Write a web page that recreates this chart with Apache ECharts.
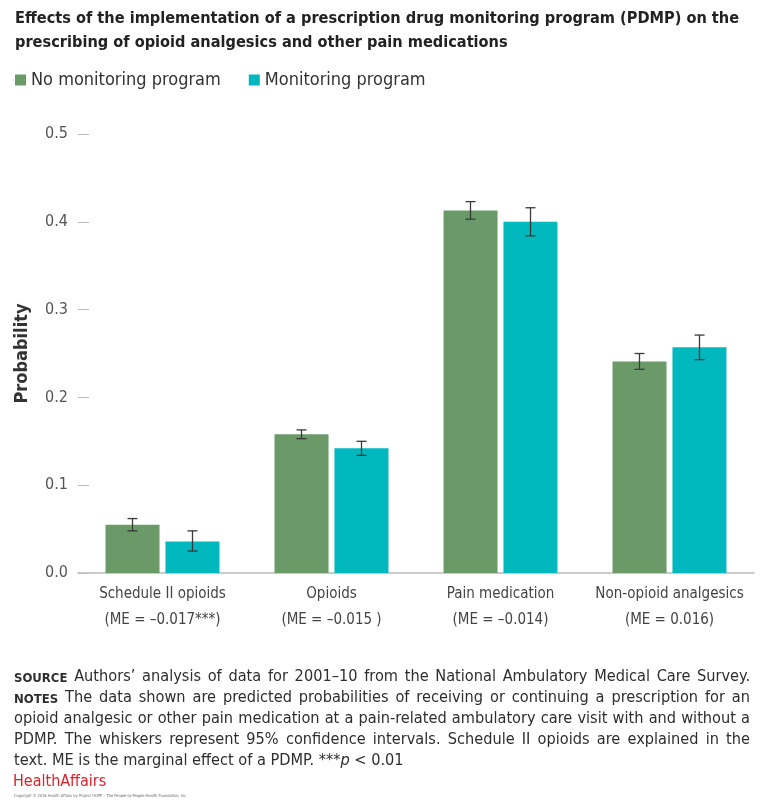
<!DOCTYPE html>
<html><head><meta charset="utf-8">
<script src="https://cdn.jsdelivr.net/npm/echarts@6/dist/echarts.min.js"></script>
<style>html,body{margin:0;padding:0;background:#fff}#c{width:768px;height:808px}</style>
</head><body><div id="c"></div>
<script>
const categories = ['Schedule II opioids', 'Opioids', 'Pain medication', 'Non-opioid analgesics'];
const meLabels = ['(ME = \u20130.017***)', '(ME = \u20130.015 )', '(ME = \u20130.014)', '(ME = 0.016)'];
const noProgram = [0.055, 0.158, 0.413, 0.241];
const noProgramLow = [0.048, 0.153, 0.403, 0.232];
const noProgramHigh = [0.062, 0.163, 0.423, 0.250];
const withProgram = [0.036, 0.142, 0.400, 0.257];
const withProgramLow = [0.025, 0.134, 0.384, 0.243];
const withProgramHigh = [0.048, 0.150, 0.416, 0.271];
const yTicks = [0, 0.1, 0.2, 0.3, 0.4, 0.5];

const FONT = '"DejaVu Sans Condensed","Liberation Sans Narrow",sans-serif';
const GREEN = '#6a9a68';
const TEAL = '#00b8bd';
const BAR_W = 54;
const OFFSET = 30;

const chart = echarts.init(document.getElementById('c'), null, {renderer: 'canvas'});

function errSeries(lows, highs, offset) {
  return {
    type: 'custom', z: 10, silent: true,
    data: lows.map((l, i) => [i, l, highs[i]]),
    renderItem: function (params, api) {
      const lo = api.coord([api.value(0), api.value(1)]);
      const hi = api.coord([api.value(0), api.value(2)]);
      const x = lo[0] + offset;
      const cap = 5;
      const st = {stroke: '#3a3a3a', lineWidth: 1.3};
      return {type: 'group', children: [
        {type: 'line', shape: {x1: x, y1: lo[1], x2: x, y2: hi[1]}, style: st},
        {type: 'line', shape: {x1: x - cap, y1: lo[1], x2: x + cap, y2: lo[1]}, style: st},
        {type: 'line', shape: {x1: x - cap, y1: hi[1], x2: x + cap, y2: hi[1]}, style: st}
      ]};
    }
  };
}

// footer lines: tokens [text, styleKey]; all lines justified except last
const footerLines = [
  [['SOURCE', 'b'], ['Authors\u2019 analysis of data for 2001\u201310 from the National Ambulatory Medical Care Survey.', 'n']],
  [['NOTES', 'b'], ['The data shown are predicted probabilities of receiving or continuing a prescription for an', 'n']],
  [['opioid analgesic or other pain medication at a pain-related ambulatory care visit with and without a', 'n']],
  [['PDMP. The whiskers represent 95% confidence intervals. Schedule II opioids are explained in the', 'n']],
  [['text. ME is the marginal effect of a PDMP. ***', 'n'], ['p', 'i'], [' < 0.01', 'n']]
];
const FSIZE = 16.2;
const fonts = {
  n: FSIZE + 'px ' + FONT,
  b: 'bold 13px ' + FONT,
  i: 'italic ' + FSIZE + 'px ' + FONT
};
const mctx = document.createElement('canvas').getContext('2d');
function measure(t, f) { mctx.font = f; return mctx.measureText(t).width; }

const graphics = [];
const FX0 = 14, FX1 = 750;
footerLines.forEach((line, li) => {
  const y = 669 + li * 21;
  const justify = li < footerLines.length - 1;
  const units = [];
  line.forEach(([t, k], ti) => {
    if (k === 'i') {
      units[units.length - 1].push({t: t, k: k});
      return;
    }
    if (k === 'b') { units.push([{t: t, k: k}]); return; }
    const startsSpace = t.startsWith(' ');
    const parts = t.split(' ').filter(p => p !== '');
    parts.forEach((p, pi) => {
      const prev = line[ti - 1];
      if (pi === 0 && prev && prev[1] === 'i' && !startsSpace) units[units.length - 1].push({t: p, k: k});
      else units.push([{t: p, k: k}]);
    });
  });
  const space = measure(' ', fonts.n);
  const uw = units.map(u => u.reduce((s, w) => s + measure(w.t, fonts[w.k]), 0));
  const total = uw.reduce((a, b) => a + b, 0);
  const gap = justify ? (FX1 - FX0 - total) / (units.length - 1) : space;
  let x = FX0;
  units.forEach((u, ui) => {
    let xx = x;
    u.forEach(w => {
      graphics.push({type: 'text', x: xx, y: y + (w.k === 'b' ? 3 : 0),
        style: {text: w.t, font: fonts[w.k], fill: '#2e2e2e'}});
      xx += measure(w.t, fonts[w.k]);
    });
    x += uw[ui] + gap;
  });
});
graphics.push({type: 'text', left: 13, top: 774, style: {text: 'HealthAffairs', font: '16px ' + FONT, fill: '#e0202a'}});
graphics.push({type: 'text', left: 14, top: 794, style: {text: 'Copyright \u00a9 2016 Health Affairs by Project HOPE \u2013 The People-to-People Health Foundation, Inc.', font: '4px ' + FONT, fill: '#666'}});

chart.setOption({
  animation: false,
  title: {
    text: 'Effects of the implementation of a prescription drug monitoring program (PDMP) on the\nprescribing of opioid analgesics and other pain medications',
    left: 10, top: 2,
    textStyle: {fontFamily: FONT, fontSize: 16.2, fontWeight: 'bold', color: '#222', lineHeight: 24}
  },
  legend: {
    left: 10, top: 66, itemWidth: 11, itemHeight: 11, itemGap: 28, icon: 'rect',
    textStyle: {fontFamily: FONT, fontSize: 18, color: '#333'},
    data: ['No monitoring program', 'Monitoring program']
  },
  grid: {left: 78, right: 14, top: 134, bottom: 235},
  xAxis: {
    type: 'category', data: categories,
    axisLine: {lineStyle: {color: '#bbb', width: 1.5}},
    axisTick: {show: false},
    axisLabel: {
      interval: 0, margin: 8, lineHeight: 26, fontFamily: FONT, fontSize: 15, color: '#444',
      formatter: (v, i) => v + '\n' + meLabels[i]
    }
  },
  yAxis: {
    type: 'value', min: yTicks[0], max: yTicks[yTicks.length - 1], interval: 0.1,
    name: 'Probability', nameLocation: 'middle', nameGap: 47, nameRotate: 90,
    nameTextStyle: {fontFamily: FONT, fontSize: 18, color: '#333', fontWeight: 'bold'},
    axisLine: {show: false},
    axisTick: {show: true, inside: true, length: 11, lineStyle: {color: '#bbb'}},
    splitLine: {show: false},
    axisLabel: {margin: 10, fontFamily: FONT, fontSize: 16, color: '#555', formatter: v => v.toFixed(1)}
  },
  series: [
    {name: 'No monitoring program', type: 'bar', data: noProgram, barWidth: BAR_W, barGap: '11%', itemStyle: {color: GREEN}},
    {name: 'Monitoring program', type: 'bar', data: withProgram, barWidth: BAR_W, barGap: '11%', itemStyle: {color: TEAL}},
    errSeries(noProgramLow, noProgramHigh, -OFFSET),
    errSeries(withProgramLow, withProgramHigh, OFFSET)
  ],
  graphic: graphics
});
</script></body></html>
